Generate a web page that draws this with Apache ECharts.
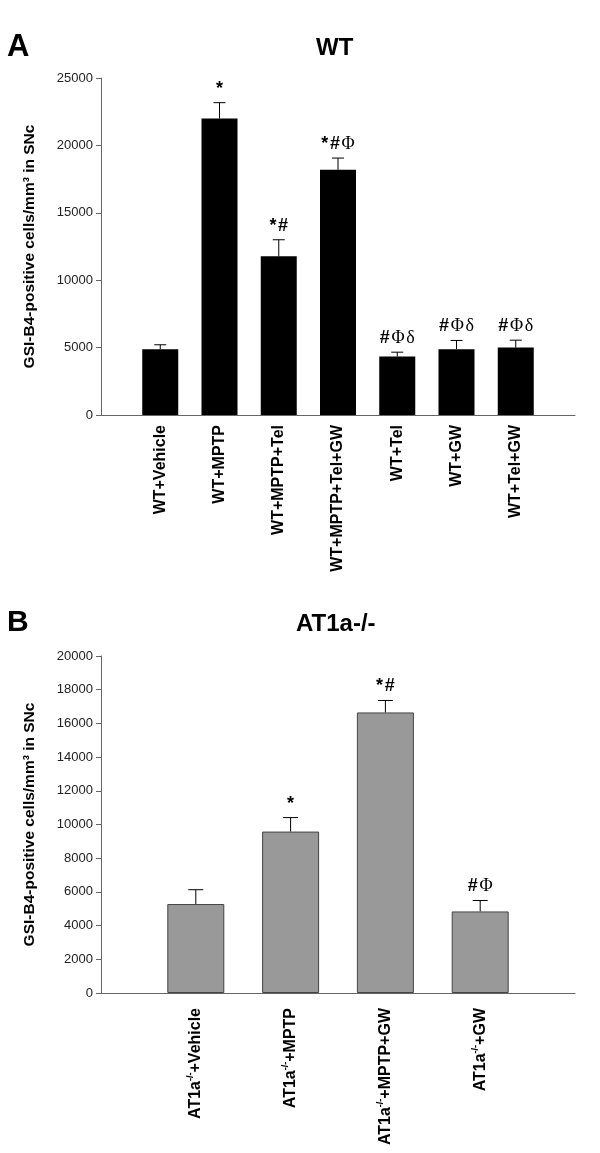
<!DOCTYPE html>
<html><head><meta charset="utf-8">
<script src="https://cdn.jsdelivr.net/npm/echarts@6/dist/echarts.min.js"></script>
<style>html,body{margin:0;padding:0;background:#fff}#c{width:600px;height:1153px}</style>
</head><body><div id="c"></div>
<script>
// ---- Panel A (WT) ----
const wtCats = ['WT+Vehicle', 'WT+MPTP', 'WT+MPTP+Tel', 'WT+MPTP+Tel+GW', 'WT+Tel', 'WT+GW', 'WT+Tel+GW'];
const wtMeans = [4880, 22000, 11770, 18190, 4340, 4880, 5000];
const wtSEM = [330, 1170, 1230, 870, 320, 650, 550];
const wtMarks = ['', '*', '*#', '*#Φ', '#Φδ', '#Φδ', '#Φδ'];
const wtTicks = [0, 5000, 10000, 15000, 20000, 25000];

// ---- Panel B (AT1a-/-) ----
const koCats = ['Vehicle', 'MPTP', 'MPTP+GW', 'GW'];
const koMeans = [5280, 9580, 16650, 4840];
const koSEM = [850, 830, 710, 650];
const koMarks = ['', '*', '*#', '#Φ'];
const koTicks = [0, 2000, 4000, 6000, 8000, 10000, 12000, 14000, 16000, 18000, 20000];

const yName = 'GSI-B4-positive cells/mm³ in SNc';
const axisColor = '#666';

function markRich(s) {
  return s.split('').map(ch => (ch === '*' || ch === '#') ? '{b|' + ch + '}' : '{g|' + ch + '}').join('{sp| }');
}
const markRichStyles = {
  b: { fontFamily: 'Arial, Liberation Sans', fontWeight: 'bold', fontSize: 18, fill: '#000' },
  g: { fontFamily: 'Liberation Serif, DejaVu Serif', fontSize: 18, fill: '#000' },
  sp: { fontSize: 6 }
};

function errSeries(gridIdx, means, sem, marks, cap) {
  return {
    type: 'custom', xAxisIndex: gridIdx, yAxisIndex: gridIdx, z: 5,
    data: means.map((m, i) => [i + 1, m, m + sem[i], i]),
    renderItem: function (params, api) {
      const x = api.value(0);
      const p0 = api.coord([x, api.value(1)]);
      const p1 = api.coord([x, api.value(2)]);
      const idx = api.value(3);
      const children = [
        { type: 'line', shape: { x1: p0[0], y1: p0[1], x2: p1[0], y2: p1[1] }, style: { stroke: '#000', lineWidth: 1 } },
        { type: 'line', shape: { x1: p1[0] - cap / 2, y1: p1[1], x2: p1[0] + cap / 2, y2: p1[1] }, style: { stroke: '#000', lineWidth: 1 } }
      ];
      if (marks[idx]) {
        children.push({
          type: 'text',
          style: { text: markRich(marks[idx]), rich: markRichStyles, x: p1[0], y: p1[1] - 5, align: 'center', verticalAlign: 'bottom' }
        });
      }
      return { type: 'group', children: children };
    }
  };
}

function yAxisCfg(gridIdx, ticks) {
  return {
    type: 'value', gridIndex: gridIdx, min: ticks[0], max: ticks[ticks.length - 1], interval: ticks[1] - ticks[0],
    name: yName, nameLocation: 'middle', nameGap: 63, nameRotate: 90,
    nameTextStyle: { fontFamily: 'Arial, Liberation Sans', fontWeight: 'bold', fontSize: 15.5, color: '#000' },
    axisLine: { show: true, lineStyle: { color: axisColor, width: 1 } },
    axisTick: { show: true, length: 5, lineStyle: { color: axisColor } },
    splitLine: { show: false },
    axisLabel: { fontFamily: 'Arial, Liberation Sans', fontSize: 13, color: '#222', margin: 8, formatter: v => String(v) }
  };
}

const bold = { fontFamily: 'Arial, Liberation Sans', fontWeight: 'bold', fontSize: 16, color: '#000' };

const option = {
  animation: false,
  backgroundColor: '#fff',
  graphic: [
    { type: 'text', left: 7, top: 32, style: { text: 'A', font: 'bold 31px Arial, Liberation Sans', fill: '#000' } },
    { type: 'text', left: 316, top: 36, style: { text: 'WT', font: 'bold 24px Arial, Liberation Sans', fill: '#000' } },
    { type: 'text', left: 7, top: 608, style: { text: 'B', font: 'bold 30px Arial, Liberation Sans', fill: '#000' } },
    { type: 'text', left: 296, top: 612, style: { text: 'AT1a-/-', font: 'bold 24px Arial, Liberation Sans', fill: '#000' } }
  ],
  grid: [
    { left: 101, right: 25, top: 78, height: 337 },
    { left: 101, right: 25, top: 656, height: 337 }
  ],
  xAxis: [
    {
      type: 'category', gridIndex: 0, boundaryGap: false, data: [''].concat(wtCats, ['']),
      axisLine: { lineStyle: { color: axisColor } }, axisTick: { show: false },
      axisLabel: Object.assign({ rotate: 90, margin: 10, interval: 0 }, bold)
    },
    {
      type: 'category', gridIndex: 1, boundaryGap: false, data: [''].concat(koCats, ['']),
      axisLine: { lineStyle: { color: axisColor } }, axisTick: { show: false },
      axisLabel: {
        rotate: 90, margin: 15, interval: 0,
        formatter: v => v ? '{a|AT1a}{s|-/-}{a|+' + v + '}' : '',
        rich: {
          a: { fontFamily: 'Arial, Liberation Sans', fontWeight: 'bold', fontSize: 16, color: '#000', lineHeight: 19 },
          s: { fontFamily: 'Arial, Liberation Sans', fontWeight: 'bold', fontSize: 9, color: '#000', verticalAlign: 'top', lineHeight: 19 }
        }
      }
    }
  ],
  yAxis: [yAxisCfg(0, wtTicks), yAxisCfg(1, koTicks)],
  series: [
    {
      type: 'bar', xAxisIndex: 0, yAxisIndex: 0, barWidth: 36,
      data: ['-'].concat(wtMeans, ['-']),
      itemStyle: { color: '#000' }
    },
    {
      type: 'bar', xAxisIndex: 1, yAxisIndex: 1, barWidth: 57,
      data: ['-'].concat(koMeans, ['-']),
      itemStyle: { color: '#999', borderColor: '#444', borderWidth: 1 }
    },
    errSeries(0, wtMeans, wtSEM, wtMarks, 12),
    errSeries(1, koMeans, koSEM, koMarks, 15)
  ]
};
echarts.init(document.getElementById('c'), null, { renderer: 'canvas' }).setOption(option);
</script>
</body></html>
